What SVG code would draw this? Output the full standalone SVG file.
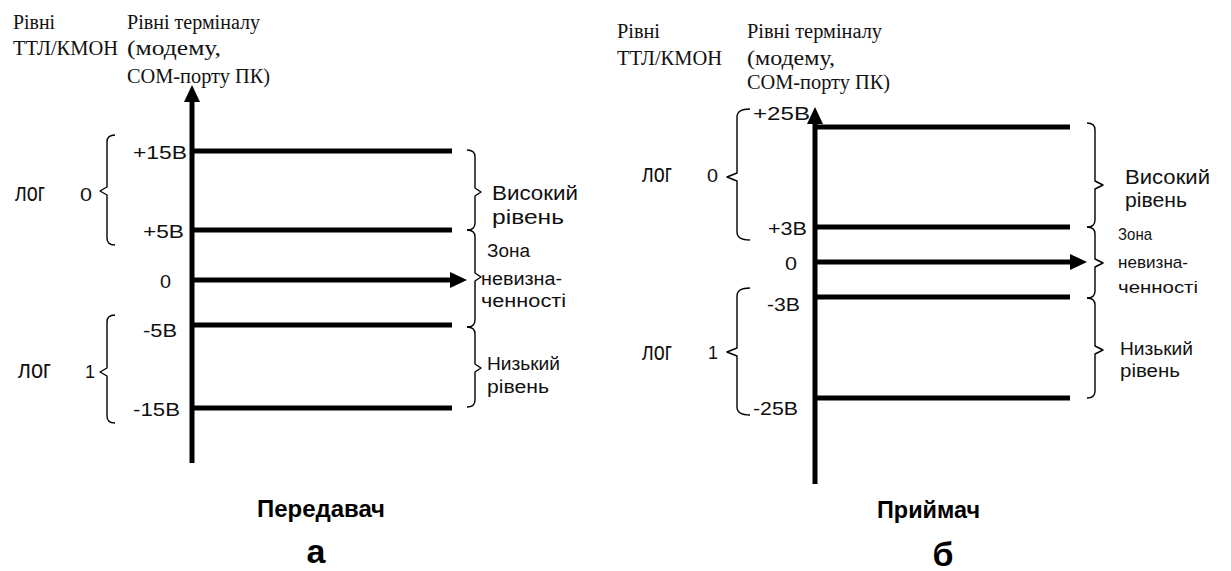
<svg xmlns="http://www.w3.org/2000/svg" width="1231" height="571" viewBox="0 0 1231 571">
  <style>
    .bg { fill: #ffffff; }
    .lvl { stroke: #000; stroke-width: 5; fill: none; stroke-linecap: butt; }
    .axis { stroke: #000; stroke-width: 5; fill: none; marker-end: url(#head); }
    .brace { stroke: #000; stroke-width: 1.4; fill: none; stroke-linejoin: round; }
    text { fill: #111; }
    .hdr { font-family: "Liberation Serif", "DejaVu Serif", serif; font-size: 20px; }
    .val { font-family: "Liberation Sans", Arial, sans-serif; font-size: 18px; }
    .zone { font-family: "Liberation Sans", Arial, sans-serif; font-size: 18px; }
    .zs { font-family: "Liberation Sans", Arial, sans-serif; font-size: 17px; }
    .big { font-family: "Liberation Sans", Arial, sans-serif; font-size: 21px; }
    .big2 { font-family: "Liberation Sans", Arial, sans-serif; font-size: 20px; }
    .log { font-family: "Liberation Sans", Arial, sans-serif; font-size: 19px; }
    .title { font-family: "Liberation Sans", Arial, sans-serif; font-size: 24px; font-weight: bold; fill: #000; }
    .letter { font-family: "Liberation Sans", Arial, sans-serif; font-size: 34px; font-weight: bold; fill: #000; }
  </style>
  <defs>
    <marker id="head" viewBox="0 0 17 16" refX="5" refY="8" markerWidth="17" markerHeight="16" markerUnits="userSpaceOnUse" orient="auto">
      <path d="M0,0 L17,8 L0,16 Z" fill="#000"/>
    </marker>
  </defs>

  <rect class="bg" x="0" y="0" width="1231" height="571"/>

  <!-- ===== Panel a: transmitter ===== -->
  <g id="transmitter">
    <g id="tx-header">
      <text class="hdr" x="13" y="29" textLength="42" lengthAdjust="spacingAndGlyphs">Рівні</text>
      <text class="hdr" x="13" y="55" textLength="105" lengthAdjust="spacingAndGlyphs">ТТЛ/КМОН</text>
      <text class="hdr" x="127" y="29" textLength="133" lengthAdjust="spacingAndGlyphs">Рівні терміналу</text>
      <text class="hdr" x="127" y="55" textLength="94" lengthAdjust="spacingAndGlyphs">(модему,</text>
      <text class="hdr" x="127" y="83" textLength="143" lengthAdjust="spacingAndGlyphs">СОМ-порту ПК)</text>
    </g>

    <g id="tx-levels">
      <line class="lvl" x1="192" y1="151" x2="452" y2="151"/>
      <line class="lvl" x1="192" y1="230" x2="452" y2="230"/>
      <line class="lvl" x1="192" y1="325" x2="452" y2="325"/>
      <line class="lvl" x1="192" y1="408" x2="452" y2="408"/>
    </g>

    <g id="tx-values">
      <text class="val" x="133" y="159" textLength="54" lengthAdjust="spacingAndGlyphs">+15В</text>
      <text class="val" x="143" y="238" textLength="41" lengthAdjust="spacingAndGlyphs">+5В</text>
      <text class="val" x="160" y="288" textLength="11" lengthAdjust="spacingAndGlyphs">0</text>
      <text class="val" x="143" y="337" textLength="34" lengthAdjust="spacingAndGlyphs">-5В</text>
      <text class="val" x="133" y="416" textLength="47" lengthAdjust="spacingAndGlyphs">-15В</text>
    </g>

    <g id="tx-logic">
      <path class="brace" d="M115,135 Q107,135 107,142 V187 L100,191 L107,195 V238 Q107,245 115,245"/>
      <path class="brace" d="M115,315 Q107,315 107,322 V368 L100,372 L107,376 V416 Q107,423 115,423"/>
      <text class="log" transform="translate(15,201) scale(1,1.35)" textLength="30" lengthAdjust="spacingAndGlyphs">лог</text>
      <text class="val" x="80" y="201" textLength="12" lengthAdjust="spacingAndGlyphs">0</text>
      <text class="log" transform="translate(18,378) scale(1,1.35)" textLength="33" lengthAdjust="spacingAndGlyphs">лог</text>
      <text class="val" x="85" y="378">1</text>
    </g>

    <g id="tx-zones">
      <path class="brace" d="M467,150 Q475,150 475,157 V188 L481,192 L475,196 V223 Q475,230 467,230"/>
      <path class="brace" d="M467,230 Q475,230 475,237 V273 L481,277 L475,281 V320 Q475,327 467,327"/>
      <path class="brace" d="M467,327 Q475,327 475,334 V364 L481,368 L475,372 V400 Q475,407 467,407"/>
      <text class="big" x="492" y="200" textLength="86" lengthAdjust="spacingAndGlyphs">Високий</text>
      <text class="big" x="492" y="224" textLength="72" lengthAdjust="spacingAndGlyphs">рівень</text>
      <text class="zone" x="487" y="257" textLength="43" lengthAdjust="spacingAndGlyphs">Зона</text>
      <text class="zone" x="481" y="285" textLength="81" lengthAdjust="spacingAndGlyphs">невизна-</text>
      <text class="zone" x="481" y="307" textLength="85" lengthAdjust="spacingAndGlyphs">ченності</text>
      <text class="zone" x="487" y="370" textLength="73" lengthAdjust="spacingAndGlyphs">Низький</text>
      <text class="zone" x="487" y="393" textLength="62" lengthAdjust="spacingAndGlyphs">рівень</text>
    </g>

    <text id="tx-title" class="title" x="257" y="517" textLength="128" lengthAdjust="spacingAndGlyphs">Передавач</text>
    <text id="tx-letter" class="letter" x="316" y="563" text-anchor="middle">а</text>
  </g>

  <!-- ===== Panel б: receiver ===== -->
  <g id="receiver">
    <g id="rx-header">
      <text class="hdr" x="617" y="38" textLength="43" lengthAdjust="spacingAndGlyphs">Рівні</text>
      <text class="hdr" x="617" y="65" textLength="105" lengthAdjust="spacingAndGlyphs">ТТЛ/КМОН</text>
      <text class="hdr" x="747" y="38" textLength="135" lengthAdjust="spacingAndGlyphs">Рівні терміналу</text>
      <text class="hdr" x="747" y="65" textLength="88" lengthAdjust="spacingAndGlyphs">(модему,</text>
      <text class="hdr" x="747" y="89" textLength="143" lengthAdjust="spacingAndGlyphs">СОМ-порту ПК)</text>
    </g>

    <g id="rx-levels">
      <line class="lvl" x1="815" y1="127" x2="1070" y2="127"/>
      <line class="lvl" x1="815" y1="227" x2="1070" y2="227"/>
      <line class="lvl" x1="815" y1="297" x2="1070" y2="297"/>
      <line class="lvl" x1="815" y1="398" x2="1070" y2="398"/>
    </g>

    <g id="rx-values">
      <text class="val" x="753" y="120" textLength="57" lengthAdjust="spacingAndGlyphs">+25В</text>
      <text class="val" x="768" y="235" textLength="39" lengthAdjust="spacingAndGlyphs">+3В</text>
      <text class="val" x="785" y="270" textLength="12" lengthAdjust="spacingAndGlyphs">0</text>
      <text class="val" x="767" y="311" textLength="33" lengthAdjust="spacingAndGlyphs">-3В</text>
      <text class="val" x="753" y="415" textLength="45" lengthAdjust="spacingAndGlyphs">-25В</text>
    </g>

    <g id="rx-logic">
      <path class="brace" d="M750,109 Q737,109 737,117 V173 L727,177 L737,181 V232 Q737,240 750,240"/>
      <path class="brace" d="M750,288 Q737,288 737,296 V348 L727,352 L737,356 V407 Q737,415 750,415"/>
      <text class="log" transform="translate(642,182) scale(1,1.35)" textLength="30" lengthAdjust="spacingAndGlyphs">лог</text>
      <text class="val" x="707" y="182" textLength="11" lengthAdjust="spacingAndGlyphs">0</text>
      <text class="log" transform="translate(642,360) scale(1,1.35)" textLength="30" lengthAdjust="spacingAndGlyphs">лог</text>
      <text class="val" x="708" y="359">1</text>
    </g>

    <g id="rx-zones">
      <path class="brace" d="M1087,123 Q1095,123 1095,130 V181 L1103,185 L1095,189 V220 Q1095,227 1087,227"/>
      <path class="brace" d="M1087,227 Q1095,227 1095,234 V259 L1103,263 L1095,267 V291 Q1095,298 1087,298"/>
      <path class="brace" d="M1087,298 Q1095,298 1095,305 V346 L1103,350 L1095,354 V391 Q1095,398 1087,398"/>
      <text class="big2" x="1125" y="184" textLength="85" lengthAdjust="spacingAndGlyphs">Високий</text>
      <text class="big2" x="1125" y="207" textLength="62" lengthAdjust="spacingAndGlyphs">рівень</text>
      <text class="zs" x="1118" y="240" textLength="34" lengthAdjust="spacingAndGlyphs">Зона</text>
      <text class="zs" x="1118" y="268" textLength="70" lengthAdjust="spacingAndGlyphs">невизна-</text>
      <text class="zs" x="1118" y="293" textLength="80" lengthAdjust="spacingAndGlyphs">ченності</text>
      <text class="zone" x="1120" y="355" textLength="73" lengthAdjust="spacingAndGlyphs">Низький</text>
      <text class="zone" x="1120" y="377" textLength="60" lengthAdjust="spacingAndGlyphs">рівень</text>
    </g>

    <text id="rx-title" class="title" x="877" y="518" textLength="103" lengthAdjust="spacingAndGlyphs">Приймач</text>
    <text id="rx-letter" class="letter" x="943" y="566" text-anchor="middle">б</text>
  </g>

  <!-- Axes and the zero-level arrows -->
  <g id="connectors">
    <line class="axis" x1="192" y1="463" x2="192" y2="97"/>
    <line class="axis" x1="192" y1="280" x2="455" y2="280"/>
    <line class="axis" x1="815" y1="484" x2="815" y2="119"/>
    <line class="axis" x1="815" y1="262" x2="1075" y2="262"/>
  </g>
</svg>
